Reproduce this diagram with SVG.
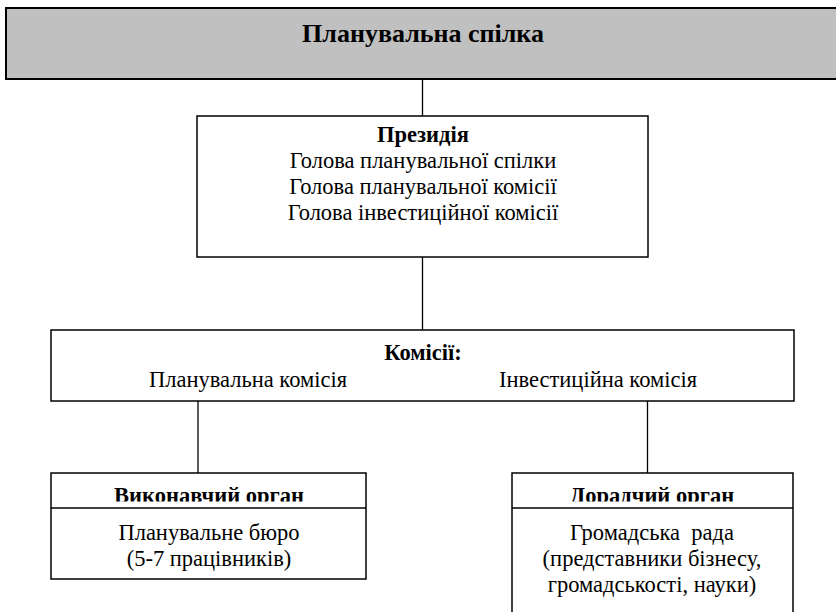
<svg xmlns="http://www.w3.org/2000/svg" width="836" height="612" viewBox="0 0 836 612">
<style>
text{font-family:"Liberation Serif","Times New Roman",serif;fill:#000;text-anchor:middle}
.b{font-weight:bold}
.t{font-size:22.5px}
.h{font-size:22.5px;font-weight:bold}
.box{fill:#fff;stroke:#000;stroke-width:1.5}
.ln{stroke:#000;stroke-width:1.3;fill:none}
</style>
<defs>
<clipPath id="c1"><rect x="51" y="473" width="315" height="28.5"/></clipPath>
<clipPath id="c2"><rect x="512" y="473" width="281" height="28.5"/></clipPath>
</defs>
<rect width="836" height="612" fill="#fff"/>
<g id="connectors">
<line class="ln" x1="422.5" y1="79" x2="422.5" y2="116"/>
<line class="ln" x1="422.5" y1="257" x2="422.5" y2="330"/>
<line class="ln" x1="198" y1="401" x2="198" y2="473"/>
<line class="ln" x1="647.5" y1="401" x2="647.5" y2="473"/>
</g>
<g id="union">
<rect x="6" y="8" width="834" height="71" fill="#c0c0c0" stroke="#000" stroke-width="2"/>
<text x="423" y="42" class="b" style="font-size:26px">Планувальна спілка</text>
</g>
<g id="presidium">
<rect class="box" x="197" y="116" width="451" height="141"/>
<text x="423" y="142" class="t b">Президія</text>
<text x="423" y="168" class="t">Голова планувальної спілки</text>
<text x="423" y="194" class="t">Голова планувальної комісії</text>
<text x="423" y="220" class="t">Голова інвестиційної комісії</text>
</g>
<g id="commissions">
<rect class="box" x="51" y="330" width="743" height="71"/>
<text x="423" y="360" class="t b">Комісії:</text>
<text x="248" y="387" class="t">Планувальна комісія</text>
<text x="598" y="387" class="t">Інвестиційна комісія</text>
</g>
<g id="executive">
<rect class="box" x="51" y="473" width="315" height="106"/>
<line class="ln" x1="51" y1="508" x2="366" y2="508"/>
<text x="209" y="503" class="h" clip-path="url(#c1)">Виконавчий орган</text>
<text x="209" y="540" class="t">Планувальне бюро</text>
<text x="209" y="566" class="t">(5-7 працівників)</text>
</g>
<g id="advisory">
<rect class="box" x="512" y="473" width="281" height="150"/>
<line class="ln" x1="512" y1="508" x2="793" y2="508"/>
<text x="652" y="503" class="h" clip-path="url(#c2)">Дорадчий орган</text>
<text x="652" y="540" class="t" xml:space="preserve">Громадська  рада</text>
<text x="652" y="566" class="t">(представники бізнесу,</text>
<text x="652" y="592" class="t">громадськості, науки)</text>
</g>
</svg>
